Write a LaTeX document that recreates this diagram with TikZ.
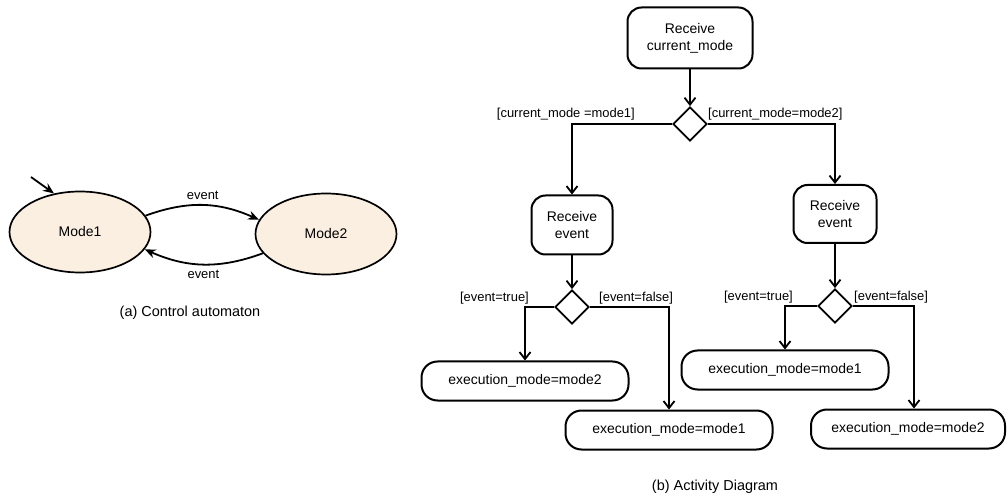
\documentclass[tikz,border=0pt]{standalone}
\usepackage{fontspec}
\setmainfont{Liberation Sans}
\usetikzlibrary{shapes.geometric,arrows.meta,calc}
\definecolor{modefill}{RGB}{250,239,225}
\begin{document}
\begin{tikzpicture}[x=1bp,y=-1bp,
  every node/.style={font=\fontsize{14}{17}\selectfont},
  statenode/.style={draw,line width=1.7bp,ellipse,fill=modefill,minimum width=141bp,minimum height=81bp,inner sep=0pt},
  actbox/.style={draw,line width=2bp,rounded corners=14bp,align=center,inner sep=0pt},
  execbox/.style={draw,line width=2bp,rounded corners=16bp,inner sep=0pt,minimum height=39bp},
  decision/.style={draw,line width=1.8bp,diamond,minimum width=34bp,minimum height=34bp,inner sep=0pt},
  guard/.style={font=\fontsize{13}{15}\selectfont,inner sep=1pt},
  flow/.style={line width=2bp,-{Straight Barb[length=7bp,width=11bp,line width=1.8bp]}},
  trans/.style={line width=1.8bp,-{Stealth[length=11bp,width=9bp]}},
  caption/.style={font=\fontsize{14.5}{17}\selectfont}]
\useasboundingbox (0,0) rectangle (1008,502);

% (a) control automaton
\node[statenode] (m1) at (80,232) {Mode1};
\node[statenode] (m2) at (326,234) {Mode2};
\coordinate (init) at (31,177);
\draw[trans] (init) -- (m1.124);
\draw[trans] (m1.14) to[bend left=22] node[above=1pt, font=\fontsize{13}{15}\selectfont] (e1) {event} (m2.168);
\draw[trans] (m2.197) to[bend left=22] node[below=2pt, font=\fontsize{13}{15}\selectfont] (e2) {event} (m1.345);
\node[caption] (capa) at (190,313) {(a) Control automaton};

% (b) activity diagram
\node[actbox,minimum width=125bp,minimum height=61bp] (rc) at (690,38) {Receive\\current\_mode};
\node[decision] (d1) at (690,124) {};
\node[actbox,minimum width=81bp,minimum height=59bp] (rl) at (572,225) {Receive\\event};
\node[actbox,minimum width=83bp,minimum height=58bp] (rr) at (835,214) {Receive\\event};
\node[decision] (d2) at (572,307) {};
\node[decision] (d3) at (835,306) {};
\node[execbox,minimum width=207bp] (ea) at (525,381) {execution\_mode=mode2};
\node[execbox,minimum width=207bp] (eb) at (669,430) {execution\_mode=mode1};
\node[execbox,minimum width=207bp] (ec) at (785,370) {execution\_mode=mode1};
\node[execbox,minimum width=194bp] (ed) at (908,429) {execution\_mode=mode2};
\coordinate (bx) at (914,0);

\draw[flow] (rc) -- (d1);
\draw[flow] (d1.west) -| (rl.north);
\draw[flow] (d1.east) -| (rr.north);
\draw[flow] (rl) -- (d2);
\draw[flow] (rr) -- (d3);
\draw[flow] (d2.west) -| (ea.north);
\draw[flow] (d2.east) -| (eb.north);
\draw[flow] (d3.west) -| (ec.north);
\draw[flow] (d3.east) -| (bx |- ed.north);

\node[guard,anchor=south east] (g1) at (636,121) {[current\_mode =mode1]};
\node[guard,anchor=south west] (g2) at (707,121) {[current\_mode=mode2]};
\node[guard,anchor=south east] (g3) at (530,305) {[event=true]};
\node[guard,anchor=south west] (g4) at (598,305) {[event=false]};
\node[guard,anchor=south east] (g5) at (794,304) {[event=true]};
\node[guard,anchor=south west] (g6) at (853,304) {[event=false]};

\node[caption] (capb) at (715,487) {(b) Activity Diagram};
\end{tikzpicture}
\end{document}
